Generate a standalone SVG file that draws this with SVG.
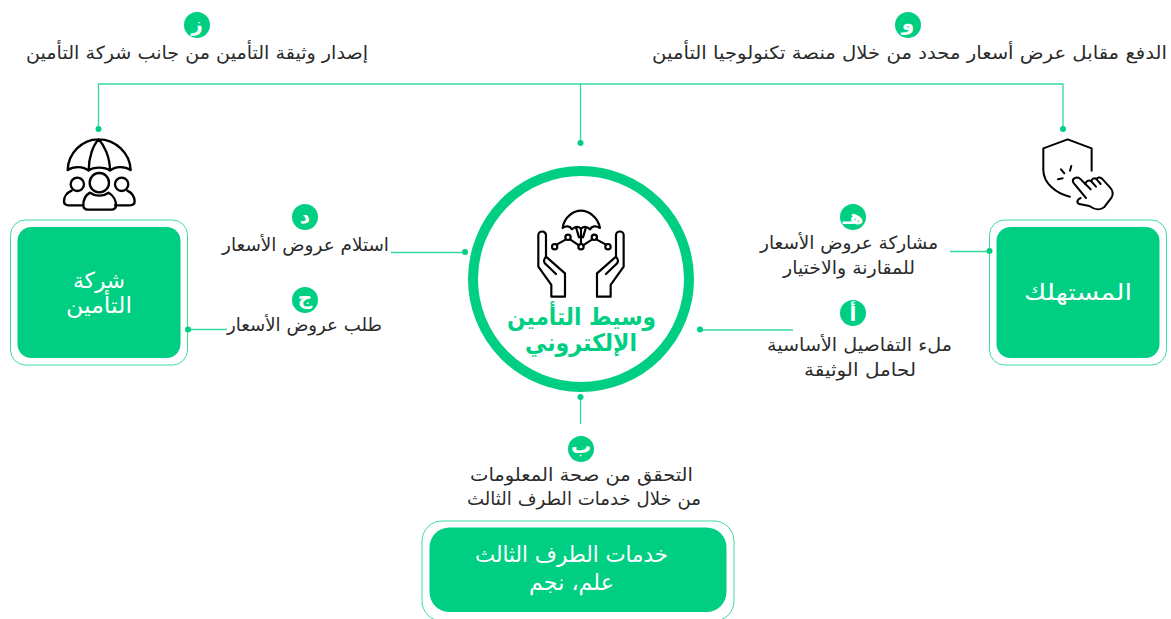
<svg xmlns="http://www.w3.org/2000/svg" width="1171" height="619" viewBox="0 0 1171 619">
<defs>
<style>
text{font-family:"DejaVu Sans","Noto Sans",sans-serif;direction:rtl;text-anchor:middle}
.t{font-size:18px;fill:#2b2b2b;font-weight:400}
.w{font-size:22px;fill:#fff}
.c{font-size:24px;fill:#00cf83;font-weight:700}
.b{font-size:20px;fill:#fff;font-weight:700}
.badge{fill:#00cf83}
.outer{fill:#fff;stroke:#00cf83;stroke-width:1;stroke-opacity:.75}
.inner{fill:#00cf83}
.ln{fill:none;stroke:#00cf83;stroke-width:1.3;stroke-opacity:.8}
.dot{fill:#00cf83}
.ic{fill:none;stroke:#000;stroke-linecap:round;stroke-linejoin:round}
</style>
</defs>
<rect width="1171" height="619" fill="#fff"/>
<g id="step-z"><circle class="badge" cx="197" cy="25" r="13"/><text class="b" x="197" y="31">ز</text>
<text class="t" x="197" y="59" textLength="342" lengthAdjust="spacingAndGlyphs">إصدار وثيقة التأمين من جانب شركة التأمين</text></g>
<g id="step-w"><circle class="badge" cx="908" cy="25" r="13"/><text class="b" x="908" y="30">و</text>
<text class="t" x="909.500" y="59" textLength="515" lengthAdjust="spacingAndGlyphs">الدفع مقابل عرض أسعار محدد من خلال منصة تكنولوجيا التأمين</text></g>
<g id="step-d"><circle class="badge" cx="305" cy="217" r="13"/><text class="b" x="305" y="223">د</text>
<text class="t" x="305.500" y="251" textLength="167" lengthAdjust="spacingAndGlyphs">استلام عروض الأسعار</text></g>
<g id="step-j"><circle class="badge" cx="305" cy="300" r="13"/><text class="b" x="305" y="304">ج</text>
<text class="t" x="304.500" y="331" textLength="155" lengthAdjust="spacingAndGlyphs">طلب عروض الأسعار</text></g>
<g id="step-h"><circle class="badge" cx="853" cy="217" r="13"/><text class="b" x="853" y="224">هـ</text>
<text class="t" x="849" y="249" textLength="178" lengthAdjust="spacingAndGlyphs">مشاركة عروض الأسعار</text>
<text class="t" x="849" y="274" textLength="132" lengthAdjust="spacingAndGlyphs">للمقارنة والاختيار</text></g>
<g id="step-a"><circle class="badge" cx="853" cy="313" r="13"/><text class="b" x="853" y="321">أ</text>
<text class="t" x="859.500" y="351" textLength="185" lengthAdjust="spacingAndGlyphs">ملء التفاصيل الأساسية</text>
<text class="t" x="860" y="376" textLength="112" lengthAdjust="spacingAndGlyphs">لحامل الوثيقة</text></g>
<g id="step-b"><circle class="badge" cx="581" cy="449" r="13"/><text class="b" x="581" y="453">ب</text>
<text class="t" x="581.500" y="481" textLength="223" lengthAdjust="spacingAndGlyphs">التحقق من صحة المعلومات</text>
<text class="t" x="584" y="505" textLength="234" lengthAdjust="spacingAndGlyphs">من خلال خدمات الطرف الثالث</text></g>
<g id="insurer-box"><rect class="outer" x="10.500" y="220" width="177" height="145" rx="15"/><rect class="inner" x="17.500" y="227" width="163" height="131" rx="14"/>
<text class="w" x="99" y="288" textLength="52" lengthAdjust="spacingAndGlyphs">شركة</text>
<text class="w" x="99" y="313" textLength="66" lengthAdjust="spacingAndGlyphs">التأمين</text></g>
<g id="consumer-box"><rect class="outer" x="989.500" y="220" width="177" height="145" rx="15"/><rect class="inner" x="996.500" y="227" width="163" height="131" rx="14"/>
<text class="w" x="1078" y="300" textLength="108" lengthAdjust="spacingAndGlyphs">المستهلك</text></g>
<g id="third-party-box"><rect class="outer" x="422" y="521" width="312" height="100" rx="20"/><rect class="inner" x="429.500" y="527.500" width="297" height="84.500" rx="20"/>
<text class="w" x="571.500" y="562" textLength="193" lengthAdjust="spacingAndGlyphs">خدمات الطرف الثالث</text>
<text class="w" x="571.500" y="590" textLength="85" lengthAdjust="spacingAndGlyphs">علم، نجم</text></g>
<g id="broker"><circle cx="581" cy="279" r="108" fill="#fff" stroke="#00cf83" stroke-width="10"/>
<text class="c" x="581.500" y="325" textLength="149" lengthAdjust="spacingAndGlyphs">وسيط التأمين</text>
<text class="c" x="581" y="351" textLength="112" lengthAdjust="spacingAndGlyphs">الإلكتروني</text>
<g transform="translate(470 150) scale(.3333)" class="ic" stroke-width="6.500">
<path id="hand" d="M205 350V256a11.500 11.500 0 0 1 23 0V320L285 370V440H244V405ZM228 320C218 330 222 340 230 345L258 372"/>
<path d="M461 350V256a11.500 11.500 0 0 0-23 0V320L381 370V440H422V405ZM438 320C448 330 444 340 436 345L408 372"/>
<path d="M278 234C282 200 312 182 333 182S384 200 390 234C378 226 366 228 360 238C350 228 342 228 333 236C324 228 316 228 306 238C300 228 288 226 278 234ZM333 236V282M318 232L327 262M348 232L339 262"/>
<path d="M260 284L288 268M300 268L327 286M339 286L367 268M379 268L408 284"/>
<circle cx="254" cy="290" r="8"/><circle cx="294" cy="262" r="8"/><circle cx="333" cy="290" r="8"/><circle cx="373" cy="262" r="8"/><circle cx="414" cy="290" r="8"/>
</g></g>
<g id="insurer-icon" transform="scale(.3333)" class="ic" stroke-width="7">
<path d="M203 510C205 460 245 418 296 418S390 460 392 510C375 498 345 498 330 512C315 500 280 500 266 512C250 498 220 498 203 510ZM266 512C266 470 280 435 296 418C312 435 330 470 330 512"/>
<circle cx="232" cy="553" r="20"/><circle cx="298" cy="548" r="29"/><circle cx="365" cy="553" r="20"/>
<path d="M215 572C200 578 192 592 192 604C192 612 198 616 206 616H248M382 572C396 578 404 592 404 604C404 612 398 616 390 616H345"/>
<path d="M270 578C255 586 250 602 250 616C250 625 256 629 264 629H334C342 629 348 625 348 616C348 602 340 586 326 578C310 590 286 590 270 578Z"/>
</g>
<g id="consumer-icon" transform="translate(980 120) scale(.3333)" class="ic" stroke-width="6">
<path d="M335 152V85L263 58L190 85V150C190 190 230 222 270 230"/>
<path d="M243 148L253 160M274 138L270 152M234 178L248 175"/>
<path d="M302 234C292 238 288 248 298 252L328 258C345 270 362 270 372 262L394 234C402 222 398 210 388 200L366 176C358 170 352 172 350 178C342 172 336 176 334 184C326 178 318 184 316 192L300 176C290 168 274 176 280 188L318 234"/>
<path d="M316 192L332 208M334 184L348 200M350 178L362 192"/>
</g>
<g id="connectors">
<path class="ln" d="M98.500 129V84H1063V129M580.500 84V143"/>
<circle class="dot" cx="98.500" cy="129" r="3"/><circle class="dot" cx="580.500" cy="143" r="3"/><circle class="dot" cx="1063" cy="129" r="3"/>
<path class="ln" d="M391 252.500H465"/><circle class="dot" cx="465" cy="252" r="3"/>
<path class="ln" d="M188 329.500H227"/><circle class="dot" cx="188" cy="329.500" r="3"/>
<path class="ln" d="M950 251.500H989"/><circle class="dot" cx="989.500" cy="251" r="3"/>
<path class="ln" d="M700 330H793"/><circle class="dot" cx="700" cy="329.500" r="3"/>
<path class="ln" d="M580.500 397V424"/><circle class="dot" cx="580.500" cy="397" r="3"/>
</g>
</svg>
